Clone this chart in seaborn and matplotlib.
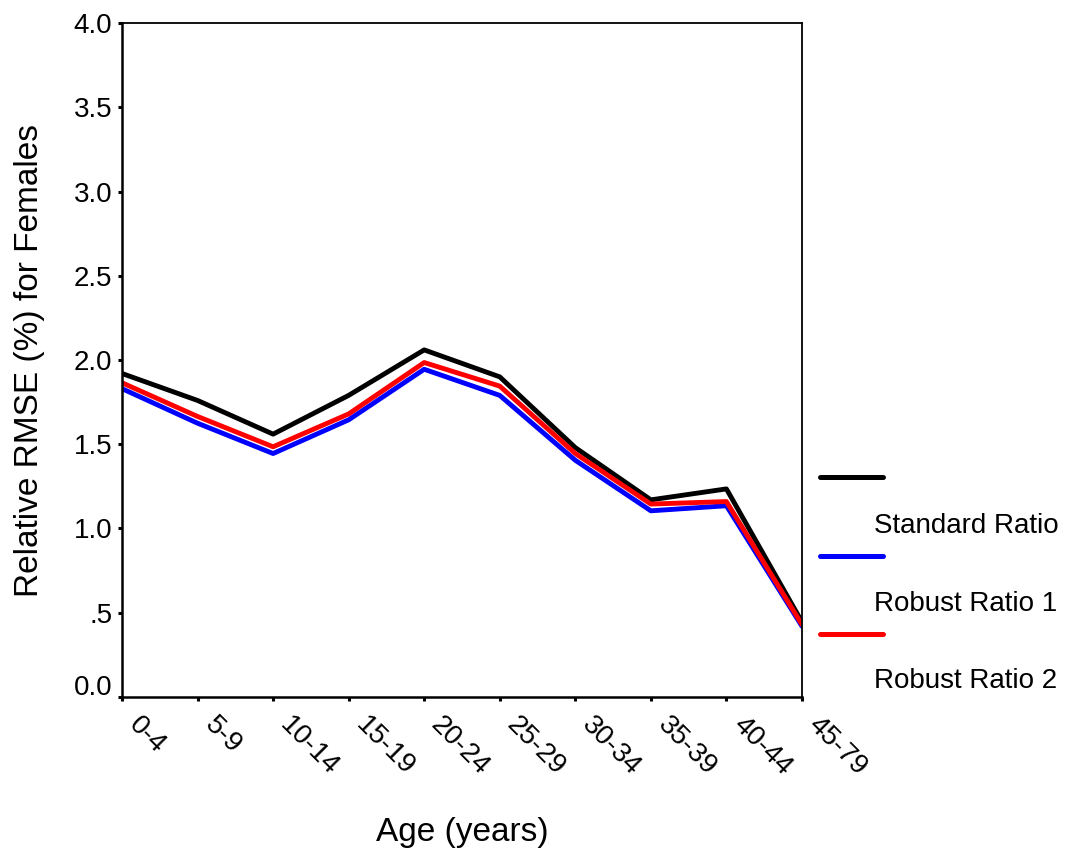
import matplotlib
matplotlib.use("Agg")
import matplotlib.pyplot as plt
import matplotlib.transforms as mtransforms
from matplotlib.lines import Line2D
import pandas as pd
import seaborn as sns

age_groups = ["0-4", "5-9", "10-14", "15-19", "20-24", "25-29",
              "30-34", "35-39", "40-44", "45-79"]
standard_ratio = [1.92, 1.76, 1.56, 1.79, 2.06, 1.90, 1.48, 1.17, 1.235, 0.445]
robust_ratio_1 = [1.83, 1.625, 1.445, 1.645, 1.945, 1.79, 1.405, 1.105, 1.135, 0.42]
robust_ratio_2 = [1.865, 1.665, 1.485, 1.68, 1.985, 1.845, 1.445, 1.145, 1.16, 0.43]
series_names = ["Standard Ratio", "Robust Ratio 1", "Robust Ratio 2"]
series_colors = ["#000000", "#0000ff", "#ff0000"]
y_ticks = [0.0, 0.5, 1.0, 1.5, 2.0, 2.5, 3.0, 3.5, 4.0]
y_tick_labels = ["0.0", ".5", "1.0", "1.5", "2.0", "2.5", "3.0", "3.5", "4.0"]

sns.set_style("white")
plt.rcParams["font.family"] = ["Liberation Sans", "DejaVu Sans"]
plt.rcParams["text.color"] = "black"
plt.rcParams["axes.labelcolor"] = "black"
plt.rcParams["xtick.color"] = "black"
plt.rcParams["ytick.color"] = "black"

rows = []
for name, vals in zip(series_names,
                      [standard_ratio, robust_ratio_1, robust_ratio_2]):
    for i, v in enumerate(vals):
        rows.append({"pos": i, "age": age_groups[i], "series": name, "rmse": v})
df = pd.DataFrame(rows)

fig = plt.figure(figsize=(10.71, 8.59), dpi=100)
ax = fig.add_axes([0.1139, 0.1886, 0.6349, 0.7846])

sns.lineplot(data=df, x="pos", y="rmse", hue="series",
             hue_order=series_names, palette=series_colors,
             linewidth=3.5, legend=False, ax=ax, sort=False)

ax.set_xlim(0, len(age_groups) - 1)
ax.set_ylim(0, 4.0)
ax.set_xticks(range(len(age_groups)))
ax.set_xticklabels(age_groups, rotation=-45, ha="left", va="top",
                   rotation_mode="anchor", fontsize=20)
ax.set_yticks(y_ticks)
ax.set_yticklabels(y_tick_labels, fontsize=20)

ax.tick_params(axis="both", direction="out", length=3, width=2.2,
               color="black", labelcolor="black", left=True, bottom=True)
ax.tick_params(axis="x", pad=8)
ax.tick_params(axis="y", pad=4)

# slanted age labels start just to the right of their ticks
shift = mtransforms.ScaledTranslation(20 / 100, 0, fig.dpi_scale_trans)
for lbl in ax.get_xticklabels():
    lbl.set_transform(lbl.get_transform() + shift)

# lift the zero label slightly above its tick
zero_lbl = ax.get_yticklabels()[0]
zero_lbl.set_transform(zero_lbl.get_transform() +
                       mtransforms.ScaledTranslation(0, 12 / 100, fig.dpi_scale_trans))

for side in ["left", "bottom"]:
    ax.spines[side].set_linewidth(1.8)
for side in ["top", "right"]:
    ax.spines[side].set_linewidth(1.3)
for s in ax.spines.values():
    s.set_color("black")
    s.set_visible(True)

ax.set_xlabel("Age (years)", fontsize=24, labelpad=0)
ax.set_ylabel("Relative RMSE (%) for Females", fontsize=24)
ax.xaxis.set_label_coords(0.5, -0.178)
ax.yaxis.set_label_coords(-0.113, 0.5)

# key: line samples on one row, their names set just below each sample
W, H = 1071, 859
handle_y = [477, 556, 634]
label_y = [526, 604, 681]
for color, hy in zip(series_colors, handle_y):
    fig.add_artist(Line2D([820 / W, 883 / W], [1 - hy / H, 1 - hy / H],
                          color=color, linewidth=3.6,
                          transform=fig.transFigure))
for name, ly in zip(series_names, label_y):
    fig.text(874 / W, 1 - ly / H, name, fontsize=20, ha="left", va="center")

fig.savefig("out.png", dpi=100)
